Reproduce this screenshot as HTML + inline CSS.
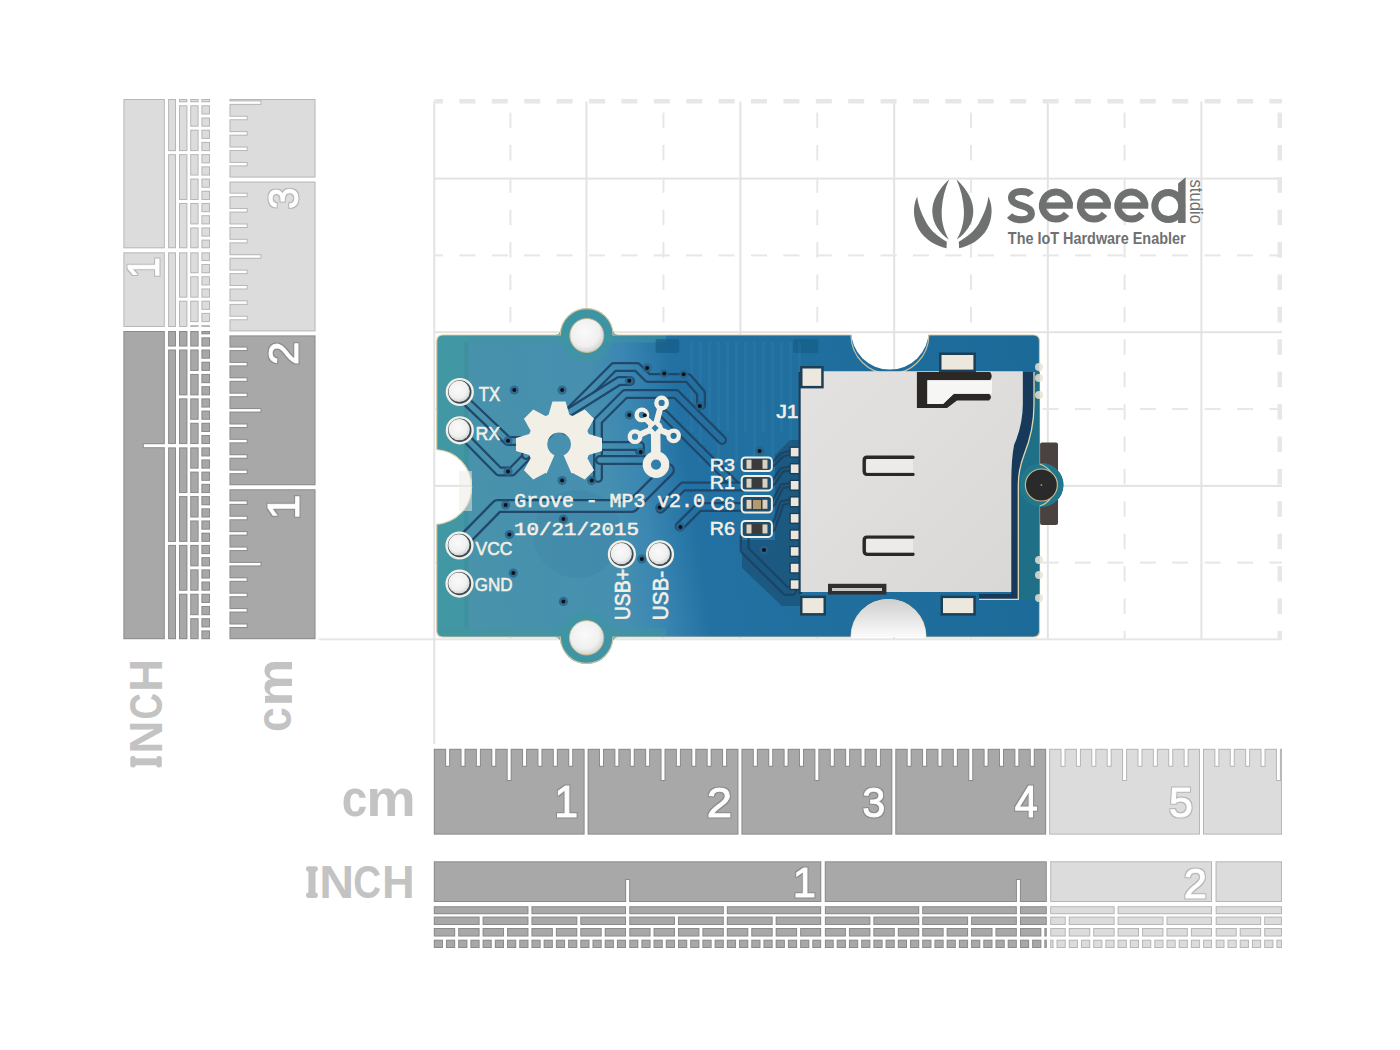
<!DOCTYPE html>
<html><head><meta charset="utf-8"><title>Grove MP3</title>
<style>html,body{margin:0;padding:0;background:#fff;width:1400px;height:1050px;overflow:hidden}
svg{display:block}</style></head>
<body><svg width="1400" height="1050" viewBox="0 0 1400 1050">
<rect width="1400" height="1050" fill="#fff"/>
<g id="grid"><rect x="433.3" y="101.5" width="2" height="642.5" fill="#e3e3e3"/><rect x="585.5" y="101.5" width="2" height="537.8" fill="#e3e3e3"/><rect x="739.4" y="101.5" width="2" height="537.8" fill="#e3e3e3"/><rect x="893.2" y="101.5" width="2" height="537.8" fill="#e3e3e3"/><rect x="1046.8" y="101.5" width="2" height="537.8" fill="#e3e3e3"/><rect x="1200.4" y="101.5" width="2" height="537.8" fill="#e3e3e3"/><rect x="434.3" y="484.9" width="847.7" height="2" fill="#e3e3e3"/><rect x="434.3" y="331.2" width="847.7" height="2" fill="#e3e3e3"/><rect x="434.3" y="177.6" width="847.7" height="2" fill="#e3e3e3"/><rect x="318.5" y="638.3" width="963.5" height="2" fill="#e6e6e6"/><rect x="509.4" y="112.5" width="2" height="15.5" fill="#e7e7e7"/><rect x="509.4" y="144.9" width="2" height="15.5" fill="#e7e7e7"/><rect x="509.4" y="177.3" width="2" height="15.5" fill="#e7e7e7"/><rect x="509.4" y="209.7" width="2" height="15.5" fill="#e7e7e7"/><rect x="509.4" y="242.1" width="2" height="15.5" fill="#e7e7e7"/><rect x="509.4" y="274.5" width="2" height="15.5" fill="#e7e7e7"/><rect x="509.4" y="306.9" width="2" height="15.5" fill="#e7e7e7"/><rect x="509.4" y="339.3" width="2" height="15.5" fill="#e7e7e7"/><rect x="509.4" y="371.7" width="2" height="15.5" fill="#e7e7e7"/><rect x="509.4" y="404.1" width="2" height="15.5" fill="#e7e7e7"/><rect x="509.4" y="436.5" width="2" height="15.5" fill="#e7e7e7"/><rect x="509.4" y="468.9" width="2" height="15.5" fill="#e7e7e7"/><rect x="509.4" y="501.3" width="2" height="15.5" fill="#e7e7e7"/><rect x="509.4" y="533.7" width="2" height="15.5" fill="#e7e7e7"/><rect x="509.4" y="566.1" width="2" height="15.5" fill="#e7e7e7"/><rect x="509.4" y="598.5" width="2" height="15.5" fill="#e7e7e7"/><rect x="509.4" y="630.9" width="2" height="8.4" fill="#e7e7e7"/><rect x="662.45" y="112.5" width="2" height="15.5" fill="#e7e7e7"/><rect x="662.45" y="144.9" width="2" height="15.5" fill="#e7e7e7"/><rect x="662.45" y="177.3" width="2" height="15.5" fill="#e7e7e7"/><rect x="662.45" y="209.7" width="2" height="15.5" fill="#e7e7e7"/><rect x="662.45" y="242.1" width="2" height="15.5" fill="#e7e7e7"/><rect x="662.45" y="274.5" width="2" height="15.5" fill="#e7e7e7"/><rect x="662.45" y="306.9" width="2" height="15.5" fill="#e7e7e7"/><rect x="662.45" y="339.3" width="2" height="15.5" fill="#e7e7e7"/><rect x="662.45" y="371.7" width="2" height="15.5" fill="#e7e7e7"/><rect x="662.45" y="404.1" width="2" height="15.5" fill="#e7e7e7"/><rect x="662.45" y="436.5" width="2" height="15.5" fill="#e7e7e7"/><rect x="662.45" y="468.9" width="2" height="15.5" fill="#e7e7e7"/><rect x="662.45" y="501.3" width="2" height="15.5" fill="#e7e7e7"/><rect x="662.45" y="533.7" width="2" height="15.5" fill="#e7e7e7"/><rect x="662.45" y="566.1" width="2" height="15.5" fill="#e7e7e7"/><rect x="662.45" y="598.5" width="2" height="15.5" fill="#e7e7e7"/><rect x="662.45" y="630.9" width="2" height="8.4" fill="#e7e7e7"/><rect x="816.3" y="112.5" width="2" height="15.5" fill="#e7e7e7"/><rect x="816.3" y="144.9" width="2" height="15.5" fill="#e7e7e7"/><rect x="816.3" y="177.3" width="2" height="15.5" fill="#e7e7e7"/><rect x="816.3" y="209.7" width="2" height="15.5" fill="#e7e7e7"/><rect x="816.3" y="242.1" width="2" height="15.5" fill="#e7e7e7"/><rect x="816.3" y="274.5" width="2" height="15.5" fill="#e7e7e7"/><rect x="816.3" y="306.9" width="2" height="15.5" fill="#e7e7e7"/><rect x="816.3" y="339.3" width="2" height="15.5" fill="#e7e7e7"/><rect x="816.3" y="371.7" width="2" height="15.5" fill="#e7e7e7"/><rect x="816.3" y="404.1" width="2" height="15.5" fill="#e7e7e7"/><rect x="816.3" y="436.5" width="2" height="15.5" fill="#e7e7e7"/><rect x="816.3" y="468.9" width="2" height="15.5" fill="#e7e7e7"/><rect x="816.3" y="501.3" width="2" height="15.5" fill="#e7e7e7"/><rect x="816.3" y="533.7" width="2" height="15.5" fill="#e7e7e7"/><rect x="816.3" y="566.1" width="2" height="15.5" fill="#e7e7e7"/><rect x="816.3" y="598.5" width="2" height="15.5" fill="#e7e7e7"/><rect x="816.3" y="630.9" width="2" height="8.4" fill="#e7e7e7"/><rect x="970" y="112.5" width="2" height="15.5" fill="#e7e7e7"/><rect x="970" y="144.9" width="2" height="15.5" fill="#e7e7e7"/><rect x="970" y="177.3" width="2" height="15.5" fill="#e7e7e7"/><rect x="970" y="209.7" width="2" height="15.5" fill="#e7e7e7"/><rect x="970" y="242.1" width="2" height="15.5" fill="#e7e7e7"/><rect x="970" y="274.5" width="2" height="15.5" fill="#e7e7e7"/><rect x="970" y="306.9" width="2" height="15.5" fill="#e7e7e7"/><rect x="970" y="339.3" width="2" height="15.5" fill="#e7e7e7"/><rect x="970" y="371.7" width="2" height="15.5" fill="#e7e7e7"/><rect x="970" y="404.1" width="2" height="15.5" fill="#e7e7e7"/><rect x="970" y="436.5" width="2" height="15.5" fill="#e7e7e7"/><rect x="970" y="468.9" width="2" height="15.5" fill="#e7e7e7"/><rect x="970" y="501.3" width="2" height="15.5" fill="#e7e7e7"/><rect x="970" y="533.7" width="2" height="15.5" fill="#e7e7e7"/><rect x="970" y="566.1" width="2" height="15.5" fill="#e7e7e7"/><rect x="970" y="598.5" width="2" height="15.5" fill="#e7e7e7"/><rect x="970" y="630.9" width="2" height="8.4" fill="#e7e7e7"/><rect x="1123.6" y="112.5" width="2" height="15.5" fill="#e7e7e7"/><rect x="1123.6" y="144.9" width="2" height="15.5" fill="#e7e7e7"/><rect x="1123.6" y="177.3" width="2" height="15.5" fill="#e7e7e7"/><rect x="1123.6" y="209.7" width="2" height="15.5" fill="#e7e7e7"/><rect x="1123.6" y="242.1" width="2" height="15.5" fill="#e7e7e7"/><rect x="1123.6" y="274.5" width="2" height="15.5" fill="#e7e7e7"/><rect x="1123.6" y="306.9" width="2" height="15.5" fill="#e7e7e7"/><rect x="1123.6" y="339.3" width="2" height="15.5" fill="#e7e7e7"/><rect x="1123.6" y="371.7" width="2" height="15.5" fill="#e7e7e7"/><rect x="1123.6" y="404.1" width="2" height="15.5" fill="#e7e7e7"/><rect x="1123.6" y="436.5" width="2" height="15.5" fill="#e7e7e7"/><rect x="1123.6" y="468.9" width="2" height="15.5" fill="#e7e7e7"/><rect x="1123.6" y="501.3" width="2" height="15.5" fill="#e7e7e7"/><rect x="1123.6" y="533.7" width="2" height="15.5" fill="#e7e7e7"/><rect x="1123.6" y="566.1" width="2" height="15.5" fill="#e7e7e7"/><rect x="1123.6" y="598.5" width="2" height="15.5" fill="#e7e7e7"/><rect x="1123.6" y="630.9" width="2" height="8.4" fill="#e7e7e7"/><rect x="1277.5" y="112.5" width="4.5" height="15.5" fill="#e7e7e7"/><rect x="1277.5" y="144.9" width="4.5" height="15.5" fill="#e7e7e7"/><rect x="1277.5" y="177.3" width="4.5" height="15.5" fill="#e7e7e7"/><rect x="1277.5" y="209.7" width="4.5" height="15.5" fill="#e7e7e7"/><rect x="1277.5" y="242.1" width="4.5" height="15.5" fill="#e7e7e7"/><rect x="1277.5" y="274.5" width="4.5" height="15.5" fill="#e7e7e7"/><rect x="1277.5" y="306.9" width="4.5" height="15.5" fill="#e7e7e7"/><rect x="1277.5" y="339.3" width="4.5" height="15.5" fill="#e7e7e7"/><rect x="1277.5" y="371.7" width="4.5" height="15.5" fill="#e7e7e7"/><rect x="1277.5" y="404.1" width="4.5" height="15.5" fill="#e7e7e7"/><rect x="1277.5" y="436.5" width="4.5" height="15.5" fill="#e7e7e7"/><rect x="1277.5" y="468.9" width="4.5" height="15.5" fill="#e7e7e7"/><rect x="1277.5" y="501.3" width="4.5" height="15.5" fill="#e7e7e7"/><rect x="1277.5" y="533.7" width="4.5" height="15.5" fill="#e7e7e7"/><rect x="1277.5" y="566.1" width="4.5" height="15.5" fill="#e7e7e7"/><rect x="1277.5" y="598.5" width="4.5" height="15.5" fill="#e7e7e7"/><rect x="1277.5" y="630.9" width="4.5" height="8.4" fill="#e7e7e7"/><rect x="434.3" y="561.6" width="8.7" height="2" fill="#e7e7e7"/><rect x="459.4" y="561.6" width="16" height="2" fill="#e7e7e7"/><rect x="491.8" y="561.6" width="16" height="2" fill="#e7e7e7"/><rect x="524.2" y="561.6" width="16" height="2" fill="#e7e7e7"/><rect x="556.6" y="561.6" width="16" height="2" fill="#e7e7e7"/><rect x="589" y="561.6" width="16" height="2" fill="#e7e7e7"/><rect x="621.4" y="561.6" width="16" height="2" fill="#e7e7e7"/><rect x="653.8" y="561.6" width="16" height="2" fill="#e7e7e7"/><rect x="686.2" y="561.6" width="16" height="2" fill="#e7e7e7"/><rect x="718.6" y="561.6" width="16" height="2" fill="#e7e7e7"/><rect x="751" y="561.6" width="16" height="2" fill="#e7e7e7"/><rect x="783.4" y="561.6" width="16" height="2" fill="#e7e7e7"/><rect x="815.8" y="561.6" width="16" height="2" fill="#e7e7e7"/><rect x="848.2" y="561.6" width="16" height="2" fill="#e7e7e7"/><rect x="880.6" y="561.6" width="16" height="2" fill="#e7e7e7"/><rect x="913" y="561.6" width="16" height="2" fill="#e7e7e7"/><rect x="945.4" y="561.6" width="16" height="2" fill="#e7e7e7"/><rect x="977.8" y="561.6" width="16" height="2" fill="#e7e7e7"/><rect x="1010.2" y="561.6" width="16" height="2" fill="#e7e7e7"/><rect x="1042.6" y="561.6" width="16" height="2" fill="#e7e7e7"/><rect x="1075" y="561.6" width="16" height="2" fill="#e7e7e7"/><rect x="1107.4" y="561.6" width="16" height="2" fill="#e7e7e7"/><rect x="1139.8" y="561.6" width="16" height="2" fill="#e7e7e7"/><rect x="1172.2" y="561.6" width="16" height="2" fill="#e7e7e7"/><rect x="1204.6" y="561.6" width="16" height="2" fill="#e7e7e7"/><rect x="1237" y="561.6" width="16" height="2" fill="#e7e7e7"/><rect x="1269.4" y="561.6" width="12.6" height="2" fill="#e7e7e7"/><rect x="434.3" y="408.05" width="8.7" height="2" fill="#e7e7e7"/><rect x="459.4" y="408.05" width="16" height="2" fill="#e7e7e7"/><rect x="491.8" y="408.05" width="16" height="2" fill="#e7e7e7"/><rect x="524.2" y="408.05" width="16" height="2" fill="#e7e7e7"/><rect x="556.6" y="408.05" width="16" height="2" fill="#e7e7e7"/><rect x="589" y="408.05" width="16" height="2" fill="#e7e7e7"/><rect x="621.4" y="408.05" width="16" height="2" fill="#e7e7e7"/><rect x="653.8" y="408.05" width="16" height="2" fill="#e7e7e7"/><rect x="686.2" y="408.05" width="16" height="2" fill="#e7e7e7"/><rect x="718.6" y="408.05" width="16" height="2" fill="#e7e7e7"/><rect x="751" y="408.05" width="16" height="2" fill="#e7e7e7"/><rect x="783.4" y="408.05" width="16" height="2" fill="#e7e7e7"/><rect x="815.8" y="408.05" width="16" height="2" fill="#e7e7e7"/><rect x="848.2" y="408.05" width="16" height="2" fill="#e7e7e7"/><rect x="880.6" y="408.05" width="16" height="2" fill="#e7e7e7"/><rect x="913" y="408.05" width="16" height="2" fill="#e7e7e7"/><rect x="945.4" y="408.05" width="16" height="2" fill="#e7e7e7"/><rect x="977.8" y="408.05" width="16" height="2" fill="#e7e7e7"/><rect x="1010.2" y="408.05" width="16" height="2" fill="#e7e7e7"/><rect x="1042.6" y="408.05" width="16" height="2" fill="#e7e7e7"/><rect x="1075" y="408.05" width="16" height="2" fill="#e7e7e7"/><rect x="1107.4" y="408.05" width="16" height="2" fill="#e7e7e7"/><rect x="1139.8" y="408.05" width="16" height="2" fill="#e7e7e7"/><rect x="1172.2" y="408.05" width="16" height="2" fill="#e7e7e7"/><rect x="1204.6" y="408.05" width="16" height="2" fill="#e7e7e7"/><rect x="1237" y="408.05" width="16" height="2" fill="#e7e7e7"/><rect x="1269.4" y="408.05" width="12.6" height="2" fill="#e7e7e7"/><rect x="434.3" y="254.4" width="8.7" height="2" fill="#e7e7e7"/><rect x="459.4" y="254.4" width="16" height="2" fill="#e7e7e7"/><rect x="491.8" y="254.4" width="16" height="2" fill="#e7e7e7"/><rect x="524.2" y="254.4" width="16" height="2" fill="#e7e7e7"/><rect x="556.6" y="254.4" width="16" height="2" fill="#e7e7e7"/><rect x="589" y="254.4" width="16" height="2" fill="#e7e7e7"/><rect x="621.4" y="254.4" width="16" height="2" fill="#e7e7e7"/><rect x="653.8" y="254.4" width="16" height="2" fill="#e7e7e7"/><rect x="686.2" y="254.4" width="16" height="2" fill="#e7e7e7"/><rect x="718.6" y="254.4" width="16" height="2" fill="#e7e7e7"/><rect x="751" y="254.4" width="16" height="2" fill="#e7e7e7"/><rect x="783.4" y="254.4" width="16" height="2" fill="#e7e7e7"/><rect x="815.8" y="254.4" width="16" height="2" fill="#e7e7e7"/><rect x="848.2" y="254.4" width="16" height="2" fill="#e7e7e7"/><rect x="880.6" y="254.4" width="16" height="2" fill="#e7e7e7"/><rect x="913" y="254.4" width="16" height="2" fill="#e7e7e7"/><rect x="945.4" y="254.4" width="16" height="2" fill="#e7e7e7"/><rect x="977.8" y="254.4" width="16" height="2" fill="#e7e7e7"/><rect x="1010.2" y="254.4" width="16" height="2" fill="#e7e7e7"/><rect x="1042.6" y="254.4" width="16" height="2" fill="#e7e7e7"/><rect x="1075" y="254.4" width="16" height="2" fill="#e7e7e7"/><rect x="1107.4" y="254.4" width="16" height="2" fill="#e7e7e7"/><rect x="1139.8" y="254.4" width="16" height="2" fill="#e7e7e7"/><rect x="1172.2" y="254.4" width="16" height="2" fill="#e7e7e7"/><rect x="1204.6" y="254.4" width="16" height="2" fill="#e7e7e7"/><rect x="1237" y="254.4" width="16" height="2" fill="#e7e7e7"/><rect x="1269.4" y="254.4" width="12.6" height="2" fill="#e7e7e7"/><rect x="434.3" y="99" width="8.7" height="4.5" fill="#e7e7e7"/><rect x="459.4" y="99" width="16" height="4.5" fill="#e7e7e7"/><rect x="491.8" y="99" width="16" height="4.5" fill="#e7e7e7"/><rect x="524.2" y="99" width="16" height="4.5" fill="#e7e7e7"/><rect x="556.6" y="99" width="16" height="4.5" fill="#e7e7e7"/><rect x="589" y="99" width="16" height="4.5" fill="#e7e7e7"/><rect x="621.4" y="99" width="16" height="4.5" fill="#e7e7e7"/><rect x="653.8" y="99" width="16" height="4.5" fill="#e7e7e7"/><rect x="686.2" y="99" width="16" height="4.5" fill="#e7e7e7"/><rect x="718.6" y="99" width="16" height="4.5" fill="#e7e7e7"/><rect x="751" y="99" width="16" height="4.5" fill="#e7e7e7"/><rect x="783.4" y="99" width="16" height="4.5" fill="#e7e7e7"/><rect x="815.8" y="99" width="16" height="4.5" fill="#e7e7e7"/><rect x="848.2" y="99" width="16" height="4.5" fill="#e7e7e7"/><rect x="880.6" y="99" width="16" height="4.5" fill="#e7e7e7"/><rect x="913" y="99" width="16" height="4.5" fill="#e7e7e7"/><rect x="945.4" y="99" width="16" height="4.5" fill="#e7e7e7"/><rect x="977.8" y="99" width="16" height="4.5" fill="#e7e7e7"/><rect x="1010.2" y="99" width="16" height="4.5" fill="#e7e7e7"/><rect x="1042.6" y="99" width="16" height="4.5" fill="#e7e7e7"/><rect x="1075" y="99" width="16" height="4.5" fill="#e7e7e7"/><rect x="1107.4" y="99" width="16" height="4.5" fill="#e7e7e7"/><rect x="1139.8" y="99" width="16" height="4.5" fill="#e7e7e7"/><rect x="1172.2" y="99" width="16" height="4.5" fill="#e7e7e7"/><rect x="1204.6" y="99" width="16" height="4.5" fill="#e7e7e7"/><rect x="1237" y="99" width="16" height="4.5" fill="#e7e7e7"/><rect x="1269.4" y="99" width="12.6" height="4.5" fill="#e7e7e7"/></g>
<defs><filter id="edge" filterUnits="userSpaceOnUse" x="0" y="0" width="1400" height="1050" color-interpolation-filters="sRGB"><feMorphology in="SourceAlpha" operator="erode" radius="1" result="er"/><feComposite in="SourceAlpha" in2="er" operator="out" result="edge"/><feFlood flood-color="#000" flood-opacity="0.17"/><feComposite in2="edge" operator="in" result="ec"/><feMerge><feMergeNode in="SourceGraphic"/><feMergeNode in="ec"/></feMerge></filter></defs>
<mask id="m_vinch" maskUnits="userSpaceOnUse" x="0" y="0" width="1400" height="1050"><rect width="1400" height="1050" fill="#fff"/><rect x="167.1" y="541.91" width="9.9" height="3" fill="#000"/><rect x="167.1" y="444.21" width="9.9" height="3" fill="#000"/><rect x="167.1" y="346.52" width="9.9" height="3" fill="#000"/><rect x="167.1" y="248.82" width="9.9" height="3" fill="#000"/><rect x="167.1" y="151.13" width="9.9" height="3" fill="#000"/><rect x="178" y="590.75" width="10.4" height="3" fill="#000"/><rect x="178" y="541.91" width="10.4" height="3" fill="#000"/><rect x="178" y="493.06" width="10.4" height="3" fill="#000"/><rect x="178" y="444.21" width="10.4" height="3" fill="#000"/><rect x="178" y="395.36" width="10.4" height="3" fill="#000"/><rect x="178" y="346.52" width="10.4" height="3" fill="#000"/><rect x="178" y="297.67" width="10.4" height="3" fill="#000"/><rect x="178" y="248.82" width="10.4" height="3" fill="#000"/><rect x="178" y="199.97" width="10.4" height="3" fill="#000"/><rect x="178" y="151.13" width="10.4" height="3" fill="#000"/><rect x="178" y="102.28" width="10.4" height="3" fill="#000"/><rect x="189.2" y="615.18" width="10.4" height="3" fill="#000"/><rect x="189.2" y="590.75" width="10.4" height="3" fill="#000"/><rect x="189.2" y="566.33" width="10.4" height="3" fill="#000"/><rect x="189.2" y="541.91" width="10.4" height="3" fill="#000"/><rect x="189.2" y="517.48" width="10.4" height="3" fill="#000"/><rect x="189.2" y="493.06" width="10.4" height="3" fill="#000"/><rect x="189.2" y="468.63" width="10.4" height="3" fill="#000"/><rect x="189.2" y="444.21" width="10.4" height="3" fill="#000"/><rect x="189.2" y="419.79" width="10.4" height="3" fill="#000"/><rect x="189.2" y="395.36" width="10.4" height="3" fill="#000"/><rect x="189.2" y="370.94" width="10.4" height="3" fill="#000"/><rect x="189.2" y="346.52" width="10.4" height="3" fill="#000"/><rect x="189.2" y="322.09" width="10.4" height="3" fill="#000"/><rect x="189.2" y="297.67" width="10.4" height="3" fill="#000"/><rect x="189.2" y="273.24" width="10.4" height="3" fill="#000"/><rect x="189.2" y="248.82" width="10.4" height="3" fill="#000"/><rect x="189.2" y="224.4" width="10.4" height="3" fill="#000"/><rect x="189.2" y="199.97" width="10.4" height="3" fill="#000"/><rect x="189.2" y="175.55" width="10.4" height="3" fill="#000"/><rect x="189.2" y="151.13" width="10.4" height="3" fill="#000"/><rect x="189.2" y="126.7" width="10.4" height="3" fill="#000"/><rect x="189.2" y="102.28" width="10.4" height="3" fill="#000"/><rect x="200.4" y="627.39" width="10.6" height="3" fill="#000"/><rect x="200.4" y="615.18" width="10.6" height="3" fill="#000"/><rect x="200.4" y="602.96" width="10.6" height="3" fill="#000"/><rect x="200.4" y="590.75" width="10.6" height="3" fill="#000"/><rect x="200.4" y="578.54" width="10.6" height="3" fill="#000"/><rect x="200.4" y="566.33" width="10.6" height="3" fill="#000"/><rect x="200.4" y="554.12" width="10.6" height="3" fill="#000"/><rect x="200.4" y="541.91" width="10.6" height="3" fill="#000"/><rect x="200.4" y="529.69" width="10.6" height="3" fill="#000"/><rect x="200.4" y="517.48" width="10.6" height="3" fill="#000"/><rect x="200.4" y="505.27" width="10.6" height="3" fill="#000"/><rect x="200.4" y="493.06" width="10.6" height="3" fill="#000"/><rect x="200.4" y="480.85" width="10.6" height="3" fill="#000"/><rect x="200.4" y="468.63" width="10.6" height="3" fill="#000"/><rect x="200.4" y="456.42" width="10.6" height="3" fill="#000"/><rect x="200.4" y="444.21" width="10.6" height="3" fill="#000"/><rect x="200.4" y="432" width="10.6" height="3" fill="#000"/><rect x="200.4" y="419.79" width="10.6" height="3" fill="#000"/><rect x="200.4" y="407.57" width="10.6" height="3" fill="#000"/><rect x="200.4" y="395.36" width="10.6" height="3" fill="#000"/><rect x="200.4" y="383.15" width="10.6" height="3" fill="#000"/><rect x="200.4" y="370.94" width="10.6" height="3" fill="#000"/><rect x="200.4" y="358.73" width="10.6" height="3" fill="#000"/><rect x="200.4" y="346.52" width="10.6" height="3" fill="#000"/><rect x="200.4" y="334.3" width="10.6" height="3" fill="#000"/><rect x="200.4" y="322.09" width="10.6" height="3" fill="#000"/><rect x="200.4" y="309.88" width="10.6" height="3" fill="#000"/><rect x="200.4" y="297.67" width="10.6" height="3" fill="#000"/><rect x="200.4" y="285.46" width="10.6" height="3" fill="#000"/><rect x="200.4" y="273.24" width="10.6" height="3" fill="#000"/><rect x="200.4" y="261.03" width="10.6" height="3" fill="#000"/><rect x="200.4" y="248.82" width="10.6" height="3" fill="#000"/><rect x="200.4" y="236.61" width="10.6" height="3" fill="#000"/><rect x="200.4" y="224.4" width="10.6" height="3" fill="#000"/><rect x="200.4" y="212.19" width="10.6" height="3" fill="#000"/><rect x="200.4" y="199.97" width="10.6" height="3" fill="#000"/><rect x="200.4" y="187.76" width="10.6" height="3" fill="#000"/><rect x="200.4" y="175.55" width="10.6" height="3" fill="#000"/><rect x="200.4" y="163.34" width="10.6" height="3" fill="#000"/><rect x="200.4" y="151.13" width="10.6" height="3" fill="#000"/><rect x="200.4" y="138.91" width="10.6" height="3" fill="#000"/><rect x="200.4" y="126.7" width="10.6" height="3" fill="#000"/><rect x="200.4" y="114.49" width="10.6" height="3" fill="#000"/><rect x="200.4" y="102.28" width="10.6" height="3" fill="#000"/><rect x="120" y="327" width="95" height="4" fill="#000"/><rect x="120" y="248.32" width="95" height="4" fill="#000"/><rect x="143.8" y="444.21" width="70" height="3" fill="#000"/><text transform="translate(158.800,278.251) rotate(-90) scale(0.3814,0.4348)" font-family="Liberation Sans" font-weight="normal" font-size="100" fill="#000" stroke="#000" stroke-width="2.5">1</text></mask><g id="vinch" filter="url(#edge)"><g mask="url(#m_vinch)"><rect x="123.4" y="99" width="41.4" height="230" fill="#dddcdd"/><rect x="123.4" y="329" width="41.4" height="310.2" fill="#a8a8a8"/><rect x="168.1" y="99" width="7.9" height="230" fill="#dddcdd"/><rect x="168.1" y="329" width="7.9" height="310.2" fill="#a8a8a8"/><rect x="179" y="99" width="8.4" height="230" fill="#dddcdd"/><rect x="179" y="329" width="8.4" height="310.2" fill="#a8a8a8"/><rect x="190.2" y="99" width="8.4" height="230" fill="#dddcdd"/><rect x="190.2" y="329" width="8.4" height="310.2" fill="#a8a8a8"/><rect x="201.4" y="99" width="8.6" height="230" fill="#dddcdd"/><rect x="201.4" y="329" width="8.6" height="310.2" fill="#a8a8a8"/></g></g>
<mask id="m_vcm" maskUnits="userSpaceOnUse" x="0" y="0" width="1400" height="1050"><rect width="1400" height="1050" fill="#fff"/><rect x="226" y="624.47" width="20.7" height="2.5" fill="#000"/><rect x="226" y="609.08" width="20.7" height="2.5" fill="#000"/><rect x="226" y="593.7" width="20.7" height="2.5" fill="#000"/><rect x="226" y="578.31" width="20.7" height="2.5" fill="#000"/><rect x="226" y="562.93" width="34.5" height="2.5" fill="#000"/><rect x="226" y="547.54" width="20.7" height="2.5" fill="#000"/><rect x="226" y="532.15" width="20.7" height="2.5" fill="#000"/><rect x="226" y="516.77" width="20.7" height="2.5" fill="#000"/><rect x="226" y="501.38" width="20.7" height="2.5" fill="#000"/><rect x="226" y="485.25" width="93" height="4" fill="#000"/><rect x="226" y="470.62" width="20.7" height="2.5" fill="#000"/><rect x="226" y="455.23" width="20.7" height="2.5" fill="#000"/><rect x="226" y="439.85" width="20.7" height="2.5" fill="#000"/><rect x="226" y="424.46" width="20.7" height="2.5" fill="#000"/><rect x="226" y="409.08" width="34.5" height="2.5" fill="#000"/><rect x="226" y="393.69" width="20.7" height="2.5" fill="#000"/><rect x="226" y="378.31" width="20.7" height="2.5" fill="#000"/><rect x="226" y="362.92" width="20.7" height="2.5" fill="#000"/><rect x="226" y="347.54" width="20.7" height="2.5" fill="#000"/><rect x="226" y="331.4" width="93" height="4" fill="#000"/><rect x="226" y="316.77" width="20.7" height="2.5" fill="#000"/><rect x="226" y="301.38" width="20.7" height="2.5" fill="#000"/><rect x="226" y="286" width="20.7" height="2.5" fill="#000"/><rect x="226" y="270.61" width="20.7" height="2.5" fill="#000"/><rect x="226" y="255.23" width="34.5" height="2.5" fill="#000"/><rect x="226" y="239.84" width="20.7" height="2.5" fill="#000"/><rect x="226" y="224.46" width="20.7" height="2.5" fill="#000"/><rect x="226" y="209.07" width="20.7" height="2.5" fill="#000"/><rect x="226" y="193.69" width="20.7" height="2.5" fill="#000"/><rect x="226" y="177.55" width="93" height="4" fill="#000"/><rect x="226" y="162.92" width="20.7" height="2.5" fill="#000"/><rect x="226" y="147.53" width="20.7" height="2.5" fill="#000"/><rect x="226" y="132.15" width="20.7" height="2.5" fill="#000"/><rect x="226" y="116.76" width="20.7" height="2.5" fill="#000"/><rect x="226" y="101.38" width="34.5" height="2.5" fill="#000"/><text transform="translate(298.500,519.591) rotate(-90) scale(0.4488,0.4493)" font-family="Liberation Sans" font-weight="normal" font-size="100" fill="#000" stroke="#000" stroke-width="2.5">1</text><text transform="translate(297.800,365.109) rotate(-90) scale(0.4217,0.4257)" font-family="Liberation Sans" font-weight="normal" font-size="100" fill="#000" stroke="#000" stroke-width="2.5">2</text><text transform="translate(297.775,209.049) rotate(-90) scale(0.3872,0.4254)" font-family="Liberation Sans" font-weight="normal" font-size="100" fill="#000" stroke="#000" stroke-width="2.5">3</text></mask><g id="vcm" filter="url(#edge)"><g mask="url(#m_vcm)"><rect x="229.5" y="99" width="86" height="234.2" fill="#dddcdd"/><rect x="229.5" y="333.2" width="86" height="306" fill="#a8a8a8"/></g></g>
<mask id="m_hcm" maskUnits="userSpaceOnUse" x="0" y="0" width="1400" height="1050"><rect width="1400" height="1050" fill="#fff"/><rect x="446.13" y="745" width="3" height="20.8" fill="#000"/><rect x="461.52" y="745" width="3" height="20.8" fill="#000"/><rect x="476.9" y="745" width="3" height="20.8" fill="#000"/><rect x="492.29" y="745" width="3" height="20.8" fill="#000"/><rect x="507.68" y="745" width="3" height="35" fill="#000"/><rect x="523.06" y="745" width="3" height="20.8" fill="#000"/><rect x="538.44" y="745" width="3" height="20.8" fill="#000"/><rect x="553.83" y="745" width="3" height="20.8" fill="#000"/><rect x="569.22" y="745" width="3" height="20.8" fill="#000"/><rect x="584.6" y="745" width="3" height="93" fill="#000"/><rect x="599.99" y="745" width="3" height="20.8" fill="#000"/><rect x="615.37" y="745" width="3" height="20.8" fill="#000"/><rect x="630.75" y="745" width="3" height="20.8" fill="#000"/><rect x="646.14" y="745" width="3" height="20.8" fill="#000"/><rect x="661.52" y="745" width="3" height="35" fill="#000"/><rect x="676.91" y="745" width="3" height="20.8" fill="#000"/><rect x="692.3" y="745" width="3" height="20.8" fill="#000"/><rect x="707.68" y="745" width="3" height="20.8" fill="#000"/><rect x="723.07" y="745" width="3" height="20.8" fill="#000"/><rect x="738.45" y="745" width="3" height="93" fill="#000"/><rect x="753.84" y="745" width="3" height="20.8" fill="#000"/><rect x="769.22" y="745" width="3" height="20.8" fill="#000"/><rect x="784.61" y="745" width="3" height="20.8" fill="#000"/><rect x="799.99" y="745" width="3" height="20.8" fill="#000"/><rect x="815.38" y="745" width="3" height="35" fill="#000"/><rect x="830.76" y="745" width="3" height="20.8" fill="#000"/><rect x="846.14" y="745" width="3" height="20.8" fill="#000"/><rect x="861.53" y="745" width="3" height="20.8" fill="#000"/><rect x="876.91" y="745" width="3" height="20.8" fill="#000"/><rect x="892.3" y="745" width="3" height="93" fill="#000"/><rect x="907.68" y="745" width="3" height="20.8" fill="#000"/><rect x="923.07" y="745" width="3" height="20.8" fill="#000"/><rect x="938.45" y="745" width="3" height="20.8" fill="#000"/><rect x="953.84" y="745" width="3" height="20.8" fill="#000"/><rect x="969.23" y="745" width="3" height="35" fill="#000"/><rect x="984.61" y="745" width="3" height="20.8" fill="#000"/><rect x="1000" y="745" width="3" height="20.8" fill="#000"/><rect x="1015.38" y="745" width="3" height="20.8" fill="#000"/><rect x="1030.76" y="745" width="3" height="20.8" fill="#000"/><rect x="1046.15" y="745" width="3" height="93" fill="#000"/><rect x="1061.53" y="745" width="3" height="20.8" fill="#000"/><rect x="1076.92" y="745" width="3" height="20.8" fill="#000"/><rect x="1092.3" y="745" width="3" height="20.8" fill="#000"/><rect x="1107.69" y="745" width="3" height="20.8" fill="#000"/><rect x="1123.08" y="745" width="3" height="35" fill="#000"/><rect x="1138.46" y="745" width="3" height="20.8" fill="#000"/><rect x="1153.85" y="745" width="3" height="20.8" fill="#000"/><rect x="1169.23" y="745" width="3" height="20.8" fill="#000"/><rect x="1184.62" y="745" width="3" height="20.8" fill="#000"/><rect x="1200" y="745" width="3" height="93" fill="#000"/><rect x="1215.38" y="745" width="3" height="20.8" fill="#000"/><rect x="1230.77" y="745" width="3" height="20.8" fill="#000"/><rect x="1246.15" y="745" width="3" height="20.8" fill="#000"/><rect x="1261.54" y="745" width="3" height="20.8" fill="#000"/><rect x="1276.92" y="745" width="3" height="35" fill="#000"/><text transform="matrix(0.4302,0,0,0.4348,554.258,816.900)" font-family="Liberation Sans" font-weight="normal" font-size="100" fill="#000" stroke="#000" stroke-width="2.5">1</text><text transform="matrix(0.4565,0,0,0.4329,706.717,817.300)" font-family="Liberation Sans" font-weight="normal" font-size="100" fill="#000" stroke="#000" stroke-width="2.5">2</text><text transform="matrix(0.4149,0,0,0.4282,862.140,817.172)" font-family="Liberation Sans" font-weight="normal" font-size="100" fill="#000" stroke="#000" stroke-width="2.5">3</text><text transform="matrix(0.4137,0,0,0.4353,1014.773,817.235)" font-family="Liberation Sans" font-weight="normal" font-size="100" fill="#000" stroke="#000" stroke-width="2.5">4</text><text transform="matrix(0.4298,0,0,0.4286,1169.081,817.071)" font-family="Liberation Sans" font-weight="normal" font-size="100" fill="#000" stroke="#000" stroke-width="2.5">5</text></mask><g id="hcm" filter="url(#edge)"><g mask="url(#m_hcm)"><rect x="433.8" y="748.8" width="613.7" height="85.8" fill="#a8a8a8"/><rect x="1047.5" y="748.8" width="234.5" height="85.8" fill="#dddcdd"/></g></g>
<mask id="m_hinch" maskUnits="userSpaceOnUse" x="0" y="0" width="1400" height="1050"><rect width="1400" height="1050" fill="#fff"/><rect x="528.44" y="905.2" width="3" height="10" fill="#000"/><rect x="626.14" y="905.2" width="3" height="10" fill="#000"/><rect x="723.83" y="905.2" width="3" height="10" fill="#000"/><rect x="821.53" y="905.2" width="3" height="10" fill="#000"/><rect x="919.22" y="905.2" width="3" height="10" fill="#000"/><rect x="1016.92" y="905.2" width="3" height="10" fill="#000"/><rect x="1114.61" y="905.2" width="3" height="10" fill="#000"/><rect x="1212.31" y="905.2" width="3" height="10" fill="#000"/><rect x="479.6" y="915.6" width="3" height="10.4" fill="#000"/><rect x="528.44" y="915.6" width="3" height="10.4" fill="#000"/><rect x="577.29" y="915.6" width="3" height="10.4" fill="#000"/><rect x="626.14" y="915.6" width="3" height="10.4" fill="#000"/><rect x="674.99" y="915.6" width="3" height="10.4" fill="#000"/><rect x="723.83" y="915.6" width="3" height="10.4" fill="#000"/><rect x="772.68" y="915.6" width="3" height="10.4" fill="#000"/><rect x="821.53" y="915.6" width="3" height="10.4" fill="#000"/><rect x="870.38" y="915.6" width="3" height="10.4" fill="#000"/><rect x="919.22" y="915.6" width="3" height="10.4" fill="#000"/><rect x="968.07" y="915.6" width="3" height="10.4" fill="#000"/><rect x="1016.92" y="915.6" width="3" height="10.4" fill="#000"/><rect x="1065.77" y="915.6" width="3" height="10.4" fill="#000"/><rect x="1114.61" y="915.6" width="3" height="10.4" fill="#000"/><rect x="1163.46" y="915.6" width="3" height="10.4" fill="#000"/><rect x="1212.31" y="915.6" width="3" height="10.4" fill="#000"/><rect x="1261.16" y="915.6" width="3" height="10.4" fill="#000"/><rect x="455.17" y="927" width="3" height="10.5" fill="#000"/><rect x="479.6" y="927" width="3" height="10.5" fill="#000"/><rect x="504.02" y="927" width="3" height="10.5" fill="#000"/><rect x="528.44" y="927" width="3" height="10.5" fill="#000"/><rect x="552.87" y="927" width="3" height="10.5" fill="#000"/><rect x="577.29" y="927" width="3" height="10.5" fill="#000"/><rect x="601.72" y="927" width="3" height="10.5" fill="#000"/><rect x="626.14" y="927" width="3" height="10.5" fill="#000"/><rect x="650.56" y="927" width="3" height="10.5" fill="#000"/><rect x="674.99" y="927" width="3" height="10.5" fill="#000"/><rect x="699.41" y="927" width="3" height="10.5" fill="#000"/><rect x="723.83" y="927" width="3" height="10.5" fill="#000"/><rect x="748.26" y="927" width="3" height="10.5" fill="#000"/><rect x="772.68" y="927" width="3" height="10.5" fill="#000"/><rect x="797.11" y="927" width="3" height="10.5" fill="#000"/><rect x="821.53" y="927" width="3" height="10.5" fill="#000"/><rect x="845.95" y="927" width="3" height="10.5" fill="#000"/><rect x="870.38" y="927" width="3" height="10.5" fill="#000"/><rect x="894.8" y="927" width="3" height="10.5" fill="#000"/><rect x="919.22" y="927" width="3" height="10.5" fill="#000"/><rect x="943.65" y="927" width="3" height="10.5" fill="#000"/><rect x="968.07" y="927" width="3" height="10.5" fill="#000"/><rect x="992.49" y="927" width="3" height="10.5" fill="#000"/><rect x="1016.92" y="927" width="3" height="10.5" fill="#000"/><rect x="1041.34" y="927" width="3" height="10.5" fill="#000"/><rect x="1065.77" y="927" width="3" height="10.5" fill="#000"/><rect x="1090.19" y="927" width="3" height="10.5" fill="#000"/><rect x="1114.61" y="927" width="3" height="10.5" fill="#000"/><rect x="1139.04" y="927" width="3" height="10.5" fill="#000"/><rect x="1163.46" y="927" width="3" height="10.5" fill="#000"/><rect x="1187.88" y="927" width="3" height="10.5" fill="#000"/><rect x="1212.31" y="927" width="3" height="10.5" fill="#000"/><rect x="1236.73" y="927" width="3" height="10.5" fill="#000"/><rect x="1261.16" y="927" width="3" height="10.5" fill="#000"/><rect x="442.96" y="938.7" width="3" height="10.3" fill="#000"/><rect x="455.17" y="938.7" width="3" height="10.3" fill="#000"/><rect x="467.39" y="938.7" width="3" height="10.3" fill="#000"/><rect x="479.6" y="938.7" width="3" height="10.3" fill="#000"/><rect x="491.81" y="938.7" width="3" height="10.3" fill="#000"/><rect x="504.02" y="938.7" width="3" height="10.3" fill="#000"/><rect x="516.23" y="938.7" width="3" height="10.3" fill="#000"/><rect x="528.44" y="938.7" width="3" height="10.3" fill="#000"/><rect x="540.66" y="938.7" width="3" height="10.3" fill="#000"/><rect x="552.87" y="938.7" width="3" height="10.3" fill="#000"/><rect x="565.08" y="938.7" width="3" height="10.3" fill="#000"/><rect x="577.29" y="938.7" width="3" height="10.3" fill="#000"/><rect x="589.5" y="938.7" width="3" height="10.3" fill="#000"/><rect x="601.72" y="938.7" width="3" height="10.3" fill="#000"/><rect x="613.93" y="938.7" width="3" height="10.3" fill="#000"/><rect x="626.14" y="938.7" width="3" height="10.3" fill="#000"/><rect x="638.35" y="938.7" width="3" height="10.3" fill="#000"/><rect x="650.56" y="938.7" width="3" height="10.3" fill="#000"/><rect x="662.78" y="938.7" width="3" height="10.3" fill="#000"/><rect x="674.99" y="938.7" width="3" height="10.3" fill="#000"/><rect x="687.2" y="938.7" width="3" height="10.3" fill="#000"/><rect x="699.41" y="938.7" width="3" height="10.3" fill="#000"/><rect x="711.62" y="938.7" width="3" height="10.3" fill="#000"/><rect x="723.83" y="938.7" width="3" height="10.3" fill="#000"/><rect x="736.05" y="938.7" width="3" height="10.3" fill="#000"/><rect x="748.26" y="938.7" width="3" height="10.3" fill="#000"/><rect x="760.47" y="938.7" width="3" height="10.3" fill="#000"/><rect x="772.68" y="938.7" width="3" height="10.3" fill="#000"/><rect x="784.89" y="938.7" width="3" height="10.3" fill="#000"/><rect x="797.11" y="938.7" width="3" height="10.3" fill="#000"/><rect x="809.32" y="938.7" width="3" height="10.3" fill="#000"/><rect x="821.53" y="938.7" width="3" height="10.3" fill="#000"/><rect x="833.74" y="938.7" width="3" height="10.3" fill="#000"/><rect x="845.95" y="938.7" width="3" height="10.3" fill="#000"/><rect x="858.16" y="938.7" width="3" height="10.3" fill="#000"/><rect x="870.38" y="938.7" width="3" height="10.3" fill="#000"/><rect x="882.59" y="938.7" width="3" height="10.3" fill="#000"/><rect x="894.8" y="938.7" width="3" height="10.3" fill="#000"/><rect x="907.01" y="938.7" width="3" height="10.3" fill="#000"/><rect x="919.22" y="938.7" width="3" height="10.3" fill="#000"/><rect x="931.44" y="938.7" width="3" height="10.3" fill="#000"/><rect x="943.65" y="938.7" width="3" height="10.3" fill="#000"/><rect x="955.86" y="938.7" width="3" height="10.3" fill="#000"/><rect x="968.07" y="938.7" width="3" height="10.3" fill="#000"/><rect x="980.28" y="938.7" width="3" height="10.3" fill="#000"/><rect x="992.49" y="938.7" width="3" height="10.3" fill="#000"/><rect x="1004.71" y="938.7" width="3" height="10.3" fill="#000"/><rect x="1016.92" y="938.7" width="3" height="10.3" fill="#000"/><rect x="1029.13" y="938.7" width="3" height="10.3" fill="#000"/><rect x="1041.34" y="938.7" width="3" height="10.3" fill="#000"/><rect x="1053.55" y="938.7" width="3" height="10.3" fill="#000"/><rect x="1065.77" y="938.7" width="3" height="10.3" fill="#000"/><rect x="1077.98" y="938.7" width="3" height="10.3" fill="#000"/><rect x="1090.19" y="938.7" width="3" height="10.3" fill="#000"/><rect x="1102.4" y="938.7" width="3" height="10.3" fill="#000"/><rect x="1114.61" y="938.7" width="3" height="10.3" fill="#000"/><rect x="1126.83" y="938.7" width="3" height="10.3" fill="#000"/><rect x="1139.04" y="938.7" width="3" height="10.3" fill="#000"/><rect x="1151.25" y="938.7" width="3" height="10.3" fill="#000"/><rect x="1163.46" y="938.7" width="3" height="10.3" fill="#000"/><rect x="1175.67" y="938.7" width="3" height="10.3" fill="#000"/><rect x="1187.88" y="938.7" width="3" height="10.3" fill="#000"/><rect x="1200.1" y="938.7" width="3" height="10.3" fill="#000"/><rect x="1212.31" y="938.7" width="3" height="10.3" fill="#000"/><rect x="1224.52" y="938.7" width="3" height="10.3" fill="#000"/><rect x="1236.73" y="938.7" width="3" height="10.3" fill="#000"/><rect x="1248.94" y="938.7" width="3" height="10.3" fill="#000"/><rect x="1261.16" y="938.7" width="3" height="10.3" fill="#000"/><rect x="1273.37" y="938.7" width="3" height="10.3" fill="#000"/><rect x="1046.8" y="858" width="3.4" height="93" fill="#000"/><rect x="821.28" y="858" width="3.5" height="93" fill="#000"/><rect x="1212.06" y="858" width="3.5" height="93" fill="#000"/><rect x="626.14" y="880" width="3" height="70" fill="#000"/><rect x="1016.92" y="880" width="3" height="70" fill="#000"/><text transform="matrix(0.4186,0,0,0.4275,792.651,896.500)" font-family="Liberation Sans" font-weight="normal" font-size="100" fill="#000" stroke="#000" stroke-width="2.5">1</text><text transform="matrix(0.4174,0,0,0.4286,1183.713,898.000)" font-family="Liberation Sans" font-weight="normal" font-size="100" fill="#000" stroke="#000" stroke-width="2.5">2</text></mask><g id="hinch" filter="url(#edge)"><g mask="url(#m_hinch)"><rect x="433.8" y="861.3" width="614.7" height="40.7" fill="#a8a8a8"/><rect x="1048.5" y="861.3" width="233.5" height="40.7" fill="#dddcdd"/><rect x="433.8" y="906.2" width="614.7" height="8" fill="#a8a8a8"/><rect x="1048.5" y="906.2" width="233.5" height="8" fill="#dddcdd"/><rect x="433.8" y="916.6" width="614.7" height="8.4" fill="#a8a8a8"/><rect x="1048.5" y="916.6" width="233.5" height="8.4" fill="#dddcdd"/><rect x="433.8" y="928" width="614.7" height="8.5" fill="#a8a8a8"/><rect x="1048.5" y="928" width="233.5" height="8.5" fill="#dddcdd"/><rect x="433.8" y="939.7" width="614.7" height="8.3" fill="#a8a8a8"/><rect x="1048.5" y="939.7" width="233.5" height="8.3" fill="#dddcdd"/></g></g>
<g id="labels"><text transform="matrix(0.4592,0,0,0.5091,341.663,815.791)" font-family="Liberation Sans" font-weight="bold" font-size="100" fill="#c3c3c3" >c</text><text transform="matrix(0.5566,0,0,0.5185,366.304,816.300)" font-family="Liberation Sans" font-weight="bold" font-size="100" fill="#c3c3c3" >m</text><g fill="#c3c3c3"><rect x="306" y="866.3" width="11.9" height="5.37" rx="2.44"/><rect x="306" y="892.53" width="11.9" height="5.37" rx="2.44"/><rect x="308.38" y="867.3" width="7.14" height="29.6"/></g><text transform="matrix(0.4828,0,0,0.4580,319.221,897.900)" font-family="Liberation Sans" font-weight="bold" font-size="100" fill="#c3c3c3" >N</text><text transform="matrix(0.3846,0,0,0.4634,353.262,898.037)" font-family="Liberation Sans" font-weight="bold" font-size="100" fill="#c3c3c3" >C</text><text transform="matrix(0.4517,0,0,0.4580,381.938,897.900)" font-family="Liberation Sans" font-weight="bold" font-size="100" fill="#c3c3c3" >H</text><g fill="#c3c3c3"><rect x="130.3" y="756" width="5.36" height="11.6" rx="2.43"/><rect x="156.45" y="756" width="5.36" height="11.6" rx="2.43"/><rect x="131.3" y="758.32" width="29.5" height="6.96"/></g><text transform="translate(161.800,753.486) rotate(-90) scale(0.4552,0.4565)" font-family="Liberation Sans" font-weight="bold" font-size="100" fill="#c3c3c3" >N</text><text transform="translate(162.037,719.565) rotate(-90) scale(0.3662,0.4634)" font-family="Liberation Sans" font-weight="bold" font-size="100" fill="#c3c3c3" >C</text><text transform="translate(161.800,691.786) rotate(-90) scale(0.4552,0.4565)" font-family="Liberation Sans" font-weight="bold" font-size="100" fill="#c3c3c3" >H</text><text transform="translate(291.600,706.467) rotate(-90) scale(0.5382,0.5111)" font-family="Liberation Sans" font-weight="bold" font-size="100" fill="#c3c3c3" >m</text><text transform="translate(291.098,732.080) rotate(-90) scale(0.4449,0.5018)" font-family="Liberation Sans" font-weight="bold" font-size="100" fill="#c3c3c3" >c</text></g>
<g id="logo" fill="#6f7070">
<path d="M949.2,179.3 C938,190 932,201 932.3,212 C932.8,224 939.5,233 948.8,239.5 C943.5,230 941.3,221 941.7,210 C942.2,199 945,189 949.2,179.3 Z"/>
<path d="M 956.40 179.30 C 967.60 190.00 973.60 201.00 973.30 212.00 C 972.80 224.00 966.10 233.00 956.80 239.50 C 962.10 230.00 964.30 221.00 963.90 210.00 C 963.40 199.00 960.60 189.00 956.40 179.30 Z"/>
<path d="M917.2,196.5 C912.5,206 913,219 918.5,229 C925,240 936,246 946.5,248.2 L946.8,241.8 C939,237 931,231.5 926.5,223 C921,213 918.2,205 917.2,196.5 Z"/>
<path d="M 988.40 196.50 C 993.10 206.00 992.60 219.00 987.10 229.00 C 980.60 240.00 969.60 246.00 959.10 248.20 L 958.80 241.80 C 966.60 237.00 974.60 231.50 979.10 223.00 C 984.60 213.00 987.40 205.00 988.40 196.50 Z"/>
<g fill="none" stroke="#6f7070" stroke-width="7">
<path d="M1069.40,205.60 A13.5,13.5 0 1 0 1066.54,213.91"/>
<path d="M1107.40,205.60 A13.5,13.5 0 1 0 1104.54,213.91"/>
<path d="M1144.80,205.60 A13.5,13.5 0 1 0 1141.94,213.91"/>
<path d="M1031,195 C1029,192 1025.5,191.4 1021.5,191.4 C1015.5,191.4 1011.5,194 1011.5,198 C1011.5,202.5 1016,204.3 1021.5,205.6 C1027,207 1031.4,209 1031.4,213.5 C1031.4,217.8 1027,219.8 1021.5,219.8 C1016,219.8 1012,218.3 1009.6,215.5"/>
<circle cx="1168.3" cy="206.1" r="13.5"/>
</g>
<g fill="#6f7070">
<rect x="1041.90" y="202.4" width="30.90" height="6.3"/>
<rect x="1079.90" y="202.4" width="30.90" height="6.3"/>
<rect x="1117.30" y="202.4" width="30.90" height="6.3"/>
<polygon points="1178.1,183.6 1185.6,177.2 1185.6,223.1 1178.1,223.1"/>
</g>
<text transform="matrix(0.1442,0,0,0.1689,1007.856,243.831)" font-family="Liberation Sans" font-weight="bold" font-size="100" fill="#6f7070" >The IoT Hardware Enabler</text>
<text transform="translate(1190.181,179.499) rotate(90) scale(0.1669,0.1811)" font-family="Liberation Sans" font-weight="normal" font-size="100" fill="#6f7070" >studio</text>
</g>
<defs>
<linearGradient id="pcbg" x1="363.6" y1="0" x2="967.6" y2="0" gradientUnits="userSpaceOnUse" gradientTransform="skewX(8.5)">
 <stop offset="0" stop-color="#4a93aa"/>
 <stop offset="0.28" stop-color="#468fb0"/>
 <stop offset="0.34" stop-color="#3b87b2"/>
 <stop offset="0.42" stop-color="#2271a2"/>
 <stop offset="1" stop-color="#1c6a98"/>
</linearGradient>
<radialGradient id="holeg" cx="0.45" cy="0.4" r="0.6">
 <stop offset="0" stop-color="#fafafa"/>
 <stop offset="0.7" stop-color="#f0f0f0"/>
 <stop offset="1" stop-color="#d4d4d4"/>
</radialGradient>
<linearGradient id="metal" x1="0" y1="0" x2="1" y2="1">
 <stop offset="0" stop-color="#e3e2e0"/>
 <stop offset="1" stop-color="#d9d8d6"/>
</linearGradient>
<mask id="boardmask" maskUnits="userSpaceOnUse" x="400" y="290" width="700" height="400">
 <rect x="400" y="290" width="700" height="400" fill="#000"/>
 <rect x="436.8" y="335" width="602.7" height="302" rx="6" fill="#fff"/>
 <circle cx="586.7" cy="334.5" r="26.3" fill="#fff"/>
 <circle cx="586.6" cy="637.8" r="26.3" fill="#fff"/>
 <rect x="554.9" y="328" width="63.6" height="8" fill="#fff"/>
 <circle cx="554.87" cy="329" r="6" fill="#000"/><circle cx="618.53" cy="329" r="6" fill="#000"/>
 <rect x="554.8" y="636" width="63.6" height="8" fill="#fff"/>
 <circle cx="554.8" cy="643" r="6" fill="#000"/><circle cx="618.4" cy="643" r="6" fill="#000"/>
 <circle cx="1041.4" cy="485" r="22" fill="#fff"/>
 <circle cx="889.9" cy="330.7" r="38.9" fill="#000"/>
 <circle cx="888.5" cy="636.5" r="37.5" fill="#000"/>
 <circle cx="434.6" cy="486.9" r="37.5" fill="#000"/>
 <circle cx="586.8" cy="335.5" r="16.8" fill="#000"/>
 <circle cx="586.6" cy="637.8" r="17" fill="#000"/>
</mask>
<mask id="gearmask" maskUnits="userSpaceOnUse" x="500" y="390" width="120" height="110">
 <rect x="500" y="390" width="120" height="110" fill="#000"/>
 <polygon fill="#fff" points="548.60,414.77 552.43,401.50 565.57,401.50 569.40,414.77 570.50,415.17 571.58,415.62 572.67,416.12 584.76,409.45 594.05,418.74 587.38,430.83 587.87,431.89 588.31,432.97 588.73,434.10 602.00,437.93 602.00,451.07 588.73,454.90 588.33,456.00 587.88,457.08 587.38,458.17 594.05,470.26 584.76,479.55 572.67,472.88 571.61,473.37 570.53,473.81 569.40,474.23 565.57,487.50 552.43,487.50 548.60,474.23 547.50,473.83 546.42,473.38 545.33,472.88 533.24,479.55 523.95,470.26 530.62,458.17 530.13,457.11 529.69,456.03 529.27,454.90 516.00,451.07 516.00,437.93 529.27,434.10 529.67,433.00 530.12,431.92 530.62,430.83 523.95,418.74 533.24,409.45 545.33,416.12 546.39,415.63 547.47,415.19"/>
 <circle cx="559.1" cy="444.3" r="11.8" fill="#000"/>
 <polygon points="559,444.5 540.1,488.5 577.9,488.5" fill="#000"/>
</mask>
</defs>
<g id="pcb">
<rect x="1040" y="442.5" width="18" height="82.5" rx="2" fill="#4a4240"/>
<g mask="url(#boardmask)">
<rect x="400" y="290" width="700" height="400" fill="url(#pcbg)"/>
<rect x="436" y="300" width="230" height="42.5" fill="#3f95a0" opacity="0.6"/>
<circle cx="586.7" cy="334.5" r="27" fill="#3d979e" opacity="0.55"/><circle cx="586.6" cy="637.8" r="27" fill="#3d979e" opacity="0.55"/>
<rect x="436" y="335" width="32.5" height="302" fill="#3f99a2" opacity="0.75"/><rect x="464" y="342" width="4.5" height="286" fill="#3a8497" opacity="0.35"/>
<rect x="436" y="628" width="230" height="40" fill="#3f95a0" opacity="0.5"/>
<rect x="655.7" y="339" width="23.6" height="14" rx="2" fill="#155c88" opacity="0.7"/><rect x="793.2" y="339" width="25.2" height="14" rx="2" fill="#155c88" opacity="0.7"/>
<circle cx="577" cy="534" r="44" fill="#2c6a90" opacity="0.13"/>
<rect x="690" y="342" width="3" height="90" fill="#4a9ac0" opacity="0.12"/>
<rect x="699" y="342" width="3" height="120" fill="#4a9ac0" opacity="0.12"/>
<rect x="708" y="342" width="3" height="90" fill="#4a9ac0" opacity="0.12"/>
<rect x="717" y="342" width="3" height="120" fill="#4a9ac0" opacity="0.12"/>
<rect x="726" y="342" width="3" height="90" fill="#4a9ac0" opacity="0.12"/>
<rect x="735" y="342" width="3" height="120" fill="#4a9ac0" opacity="0.12"/>
<rect x="744" y="342" width="3" height="90" fill="#4a9ac0" opacity="0.12"/>
<rect x="753" y="342" width="3" height="120" fill="#4a9ac0" opacity="0.12"/>
<rect x="762" y="342" width="3" height="90" fill="#4a9ac0" opacity="0.12"/>
<rect x="771" y="342" width="3" height="120" fill="#4a9ac0" opacity="0.12"/>
<rect x="780" y="342" width="3" height="90" fill="#4a9ac0" opacity="0.12"/>
<rect x="789" y="342" width="3" height="120" fill="#4a9ac0" opacity="0.12"/>
<rect x="798" y="342" width="3" height="90" fill="#4a9ac0" opacity="0.12"/>
</g>
<g fill="none" stroke="#d9c9a0" stroke-width="1.2" opacity="0.9">
<path d="M442.8,335 H560.3 A26.3,26.3 0 0 1 613.1,335 H851 A38.9,38.9 0 0 0 928.8,335 H1033.5 Q1039.5,335 1039.5,341 V464 A22,22 0 0 1 1039.5,506 V631 Q1039.5,637 1033.5,637 H926 A37.5,37.5 0 0 0 851,637 H612.9 A26.3,26.3 0 0 1 560.3,637 H442.8 Q436.8,637 436.8,631 V524.3 A37.5,37.5 0 0 0 436.8,449.5 V341 Q436.8,335 442.8,335 Z"/>
</g>
<defs><linearGradient id="notchg" x1="0" y1="0" x2="0" y2="1"><stop offset="0" stop-color="#cfcfcf"/><stop offset="1" stop-color="#fbfbfb"/></linearGradient></defs>
<path d="M851,637 A37.5,37.5 0 0 1 926,637 Z" fill="url(#notchg)"/>
<circle cx="586.8" cy="335.5" r="16.8" fill="url(#holeg)"/>
<circle cx="586.8" cy="335.5" r="17" fill="none" stroke="#c8b68a" stroke-width="1"/>
<circle cx="586.6" cy="637.8" r="17" fill="url(#holeg)"/>
<circle cx="586.6" cy="637.8" r="17.2" fill="none" stroke="#c8b68a" stroke-width="1"/>
<rect x="459" y="471" width="13" height="40" fill="#ece9e2" opacity="0.5"/>
<path d="M468.00,403.00 L508.00,441.00 L522.00,441.00" fill="none" stroke="#1f4467" stroke-width="10" stroke-linejoin="round" stroke-linecap="round" opacity="0.95"/><path d="M468.00,403.00 L508.00,441.00 L522.00,441.00" fill="none" stroke="url(#pcbg)" stroke-width="5.4" stroke-linejoin="round" stroke-linecap="round"/>
<path d="M468.00,440.00 L499.00,471.50 L512.00,471.50 L530.00,453.00" fill="none" stroke="#1f4467" stroke-width="10" stroke-linejoin="round" stroke-linecap="round" opacity="0.95"/><path d="M468.00,440.00 L499.00,471.50 L512.00,471.50 L530.00,453.00" fill="none" stroke="url(#pcbg)" stroke-width="5.4" stroke-linejoin="round" stroke-linecap="round"/>
<path d="M526.00,455.00 L614.00,367.00 L637.00,367.00 L648.00,378.00 L688.00,378.00 L701.00,393.00 L701.00,405.00" fill="none" stroke="#1f4467" stroke-width="10" stroke-linejoin="round" stroke-linecap="round" opacity="0.95"/><path d="M526.00,455.00 L614.00,367.00 L637.00,367.00 L648.00,378.00 L688.00,378.00 L701.00,393.00 L701.00,405.00" fill="none" stroke="url(#pcbg)" stroke-width="5.4" stroke-linejoin="round" stroke-linecap="round"/>
<path d="M560.00,418.00 L619.00,381.00 L630.00,381.00" fill="none" stroke="#1f4467" stroke-width="10" stroke-linejoin="round" stroke-linecap="round" opacity="0.95"/><path d="M560.00,418.00 L619.00,381.00 L630.00,381.00" fill="none" stroke="url(#pcbg)" stroke-width="5.4" stroke-linejoin="round" stroke-linecap="round"/>
<path d="M598.00,478.00 L598.00,421.00 L625.00,394.00 L676.00,394.00 L722.00,440.00" fill="none" stroke="#1f4467" stroke-width="10" stroke-linejoin="round" stroke-linecap="round" opacity="0.95"/><path d="M598.00,478.00 L598.00,421.00 L625.00,394.00 L676.00,394.00 L722.00,440.00" fill="none" stroke="url(#pcbg)" stroke-width="5.4" stroke-linejoin="round" stroke-linecap="round"/>
<path d="M600.00,446.00 L640.00,446.00 L640.00,451.00" fill="none" stroke="#1f4467" stroke-width="10" stroke-linejoin="round" stroke-linecap="round" opacity="0.95"/><path d="M600.00,446.00 L640.00,446.00 L640.00,451.00" fill="none" stroke="url(#pcbg)" stroke-width="5.4" stroke-linejoin="round" stroke-linecap="round"/>
<path d="M600.00,460.00 L652.00,460.00" fill="none" stroke="#1f4467" stroke-width="10" stroke-linejoin="round" stroke-linecap="round" opacity="0.95"/><path d="M600.00,460.00 L652.00,460.00" fill="none" stroke="url(#pcbg)" stroke-width="5.4" stroke-linejoin="round" stroke-linecap="round"/>
<path d="M664.00,414.00 L722.00,472.00 L735.00,485.00" fill="none" stroke="#1f4467" stroke-width="10" stroke-linejoin="round" stroke-linecap="round" opacity="0.95"/><path d="M664.00,414.00 L722.00,472.00 L735.00,485.00" fill="none" stroke="url(#pcbg)" stroke-width="5.4" stroke-linejoin="round" stroke-linecap="round"/>
<path d="M466.00,538.00 L497.50,506.00 L632.00,506.00 L668.00,470.00" fill="none" stroke="#1f4467" stroke-width="14" stroke-linejoin="round" stroke-linecap="round" opacity="0.95"/><path d="M466.00,538.00 L497.50,506.00 L632.00,506.00 L668.00,470.00" fill="none" stroke="url(#pcbg)" stroke-width="9.4" stroke-linejoin="round" stroke-linecap="round"/>
<path d="M660.50,508.70 L683.00,486.50 L742.00,486.50" fill="none" stroke="#1f4467" stroke-width="10" stroke-linejoin="round" stroke-linecap="round" opacity="0.95"/><path d="M660.50,508.70 L683.00,486.50 L742.00,486.50" fill="none" stroke="url(#pcbg)" stroke-width="5.4" stroke-linejoin="round" stroke-linecap="round"/>
<path d="M679.70,526.40 L699.00,507.00 L742.00,507.00" fill="none" stroke="#1f4467" stroke-width="10" stroke-linejoin="round" stroke-linecap="round" opacity="0.95"/><path d="M679.70,526.40 L699.00,507.00 L742.00,507.00" fill="none" stroke="url(#pcbg)" stroke-width="5.4" stroke-linejoin="round" stroke-linecap="round"/>
<path d="M744.70,537.00 L744.70,550.00 L786.00,591.00 L792.00,591.00" fill="none" stroke="#1f4467" stroke-width="10" stroke-linejoin="round" stroke-linecap="round" opacity="0.95"/><path d="M744.70,537.00 L744.70,550.00 L786.00,591.00 L792.00,591.00" fill="none" stroke="url(#pcbg)" stroke-width="5.4" stroke-linejoin="round" stroke-linecap="round"/>
<path d="M773.00,464.00 L782.00,455.00 L792.00,452.00" fill="none" stroke="#1f4467" stroke-width="6" stroke-linejoin="round" stroke-linecap="round" opacity="0.95"/><path d="M773.00,464.00 L782.00,455.00 L792.00,452.00" fill="none" stroke="url(#pcbg)" stroke-width="1.4000000000000004" stroke-linejoin="round" stroke-linecap="round"/>
<path d="M773.00,483.00 L782.00,470.00 L792.00,468.00" fill="none" stroke="#1f4467" stroke-width="6" stroke-linejoin="round" stroke-linecap="round" opacity="0.95"/><path d="M773.00,483.00 L782.00,470.00 L792.00,468.00" fill="none" stroke="url(#pcbg)" stroke-width="1.4000000000000004" stroke-linejoin="round" stroke-linecap="round"/>
<path d="M773.00,504.00 L782.00,486.00 L792.00,485.00" fill="none" stroke="#1f4467" stroke-width="6" stroke-linejoin="round" stroke-linecap="round" opacity="0.95"/><path d="M773.00,504.00 L782.00,486.00 L792.00,485.00" fill="none" stroke="url(#pcbg)" stroke-width="1.4000000000000004" stroke-linejoin="round" stroke-linecap="round"/>
<path d="M773.00,529.00 L782.00,503.00 L792.00,501.00" fill="none" stroke="#1f4467" stroke-width="6" stroke-linejoin="round" stroke-linecap="round" opacity="0.95"/><path d="M773.00,529.00 L782.00,503.00 L792.00,501.00" fill="none" stroke="url(#pcbg)" stroke-width="1.4000000000000004" stroke-linejoin="round" stroke-linecap="round"/>
<path d="M742,540 L742,568 L782,606 L800,606 L800,440 L790,440 L775,455 L775,540 Z" fill="#173f5e" opacity="0.45"/>
<circle cx="514.30" cy="390.00" r="4.6" fill="#27628a" opacity="0.8"/><circle cx="514.30" cy="390.00" r="2" fill="#111"/>
<circle cx="562.10" cy="390.00" r="4.6" fill="#27628a" opacity="0.8"/><circle cx="562.10" cy="390.00" r="2" fill="#111"/>
<circle cx="647.10" cy="367.90" r="4.6" fill="#27628a" opacity="0.8"/><circle cx="647.10" cy="367.90" r="2" fill="#111"/>
<circle cx="664.30" cy="373.60" r="4.6" fill="#27628a" opacity="0.8"/><circle cx="664.30" cy="373.60" r="2" fill="#111"/>
<circle cx="683.60" cy="374.30" r="4.6" fill="#27628a" opacity="0.8"/><circle cx="683.60" cy="374.30" r="2" fill="#111"/>
<circle cx="629.30" cy="380.70" r="4.6" fill="#27628a" opacity="0.8"/><circle cx="629.30" cy="380.70" r="2" fill="#111"/>
<circle cx="565.70" cy="430.70" r="4.6" fill="#27628a" opacity="0.8"/><circle cx="565.70" cy="430.70" r="2" fill="#111"/>
<circle cx="508.00" cy="440.70" r="4.6" fill="#27628a" opacity="0.8"/><circle cx="508.00" cy="440.70" r="2" fill="#111"/>
<circle cx="508.00" cy="471.40" r="4.6" fill="#27628a" opacity="0.8"/><circle cx="508.00" cy="471.40" r="2" fill="#111"/>
<circle cx="629.30" cy="415.00" r="4.6" fill="#27628a" opacity="0.8"/><circle cx="629.30" cy="415.00" r="2" fill="#111"/>
<circle cx="644.30" cy="415.00" r="4.6" fill="#27628a" opacity="0.8"/><circle cx="644.30" cy="415.00" r="2" fill="#111"/>
<circle cx="640.70" cy="452.10" r="4.6" fill="#27628a" opacity="0.8"/><circle cx="640.70" cy="452.10" r="2" fill="#111"/>
<circle cx="699.80" cy="405.90" r="4.6" fill="#27628a" opacity="0.8"/><circle cx="699.80" cy="405.90" r="2" fill="#111"/>
<circle cx="759.60" cy="451.00" r="4.6" fill="#27628a" opacity="0.8"/><circle cx="759.60" cy="451.00" r="2" fill="#111"/>
<circle cx="562.10" cy="480.60" r="4.6" fill="#27628a" opacity="0.8"/><circle cx="562.10" cy="480.60" r="2" fill="#111"/>
<circle cx="591.70" cy="480.60" r="4.6" fill="#27628a" opacity="0.8"/><circle cx="591.70" cy="480.60" r="2" fill="#111"/>
<circle cx="505.60" cy="505.00" r="4.6" fill="#27628a" opacity="0.8"/><circle cx="505.60" cy="505.00" r="2" fill="#111"/>
<circle cx="563.40" cy="519.10" r="4.6" fill="#27628a" opacity="0.8"/><circle cx="563.40" cy="519.10" r="2" fill="#111"/>
<circle cx="509.40" cy="534.60" r="4.6" fill="#27628a" opacity="0.8"/><circle cx="509.40" cy="534.60" r="2" fill="#111"/>
<circle cx="513.30" cy="573.10" r="4.6" fill="#27628a" opacity="0.8"/><circle cx="513.30" cy="573.10" r="2" fill="#111"/>
<circle cx="563.40" cy="601.40" r="4.6" fill="#27628a" opacity="0.8"/><circle cx="563.40" cy="601.40" r="2" fill="#111"/>
<circle cx="659.80" cy="507.60" r="4.6" fill="#27628a" opacity="0.8"/><circle cx="659.80" cy="507.60" r="2" fill="#111"/>
<circle cx="680.40" cy="526.90" r="4.6" fill="#27628a" opacity="0.8"/><circle cx="680.40" cy="526.90" r="2" fill="#111"/>
<circle cx="641.80" cy="559.00" r="4.6" fill="#27628a" opacity="0.8"/><circle cx="641.80" cy="559.00" r="2" fill="#111"/>
<circle cx="764.00" cy="550.00" r="4.6" fill="#27628a" opacity="0.8"/><circle cx="764.00" cy="550.00" r="2" fill="#111"/>
<rect x="500" y="390" width="120" height="110" fill="#f2efe6" mask="url(#gearmask)"/>
<g stroke="#f2efe6" fill="none" stroke-linecap="round">
<path d="M655.1,427.7 L661.6,402.9 M655.1,427.7 L635,436.7 M655.1,427.7 L673.6,435.8 M655.1,427.7 L641.9,414.9" stroke-width="6"/>
<path d="M655.6,427.7 L656,464.6" stroke-width="9.5"/>
</g>
<g fill="#f2efe6">
<circle cx="661.6" cy="402.9" r="7.4"/>
<circle cx="641.9" cy="414.9" r="7.4"/>
<circle cx="635" cy="436.7" r="7.4"/>
<circle cx="673.6" cy="435.8" r="7.4"/>
<circle cx="656" cy="464.6" r="13.3"/><circle cx="655.3" cy="428.5" r="7.5"/>
</g>
<g fill="url(#pcbg)">
<circle cx="661.6" cy="402.9" r="3.1"/>
<circle cx="641.9" cy="414.9" r="3.1"/>
<circle cx="635" cy="436.7" r="3.1"/>
<circle cx="673.6" cy="435.8" r="3.1"/>
<circle cx="656" cy="464.6" r="5.1"/><rect x="652.6" y="425.6" width="5" height="5" transform="rotate(45 655.1 428.1)"/>
</g>
<circle cx="644.8" cy="415.3" r="2" fill="#111"/>
<circle cx="459.8" cy="392" r="12.9" fill="#3a4a55" stroke="#f2efe6" stroke-width="2.4"/>
<circle cx="459.20" cy="391.40" r="10.6" fill="url(#holeg)"/>
<circle cx="459.8" cy="430.3" r="12.9" fill="#3a4a55" stroke="#f2efe6" stroke-width="2.4"/>
<circle cx="459.20" cy="429.70" r="10.6" fill="url(#holeg)"/>
<circle cx="459.5" cy="545.5" r="12.9" fill="#3a4a55" stroke="#f2efe6" stroke-width="2.4"/>
<circle cx="458.90" cy="544.90" r="10.6" fill="url(#holeg)"/>
<circle cx="459.5" cy="583.6" r="12.9" fill="#3a4a55" stroke="#f2efe6" stroke-width="2.4"/>
<circle cx="458.90" cy="583.00" r="10.6" fill="url(#holeg)"/>
<circle cx="621.9" cy="554.3" r="12.9" fill="#3a4a55" stroke="#f2efe6" stroke-width="2.4"/>
<circle cx="621.30" cy="553.70" r="10.6" fill="url(#holeg)"/>
<circle cx="660" cy="554.3" r="12.9" fill="#3a4a55" stroke="#f2efe6" stroke-width="2.4"/>
<circle cx="659.40" cy="553.70" r="10.6" fill="url(#holeg)"/>
<text transform="matrix(0.1675,0,0,0.1986,478.765,401.300)" font-family="Liberation Sans" font-weight="normal" font-size="100" fill="#f2efe6" stroke="#f2efe6" stroke-width="3">TX</text>
<text transform="matrix(0.1781,0,0,0.1899,475.475,439.500)" font-family="Liberation Sans" font-weight="normal" font-size="100" fill="#f2efe6" stroke="#f2efe6" stroke-width="3">RX</text>
<text transform="matrix(0.1752,0,0,0.1831,475.525,554.517)" font-family="Liberation Sans" font-weight="normal" font-size="100" fill="#f2efe6" stroke="#f2efe6" stroke-width="3">VCC</text>
<text transform="matrix(0.1703,0,0,0.1775,474.849,591.123)" font-family="Liberation Sans" font-weight="normal" font-size="100" fill="#f2efe6" stroke="#f2efe6" stroke-width="3">GND</text>
<text transform="translate(630.279,620.149) rotate(-90) scale(0.1936,0.2211)" font-family="Liberation Sans" font-weight="normal" font-size="100" fill="#f2efe6" stroke="#f2efe6" stroke-width="3">USB+</text>
<text transform="translate(667.886,620.253) rotate(-90) scale(0.2066,0.2141)" font-family="Liberation Sans" font-weight="normal" font-size="100" fill="#f2efe6" stroke="#f2efe6" stroke-width="3">USB-</text>
<text transform="matrix(0.1985,0,0,0.2096,514.309,506.540)" font-family="Liberation Mono" font-weight="normal" font-size="100" fill="#f2efe6" stroke="#f2efe6" stroke-width="3">Grove - MP3 v2.0</text>
<text transform="matrix(0.2082,0,0,0.1926,514.043,535.057)" font-family="Liberation Mono" font-weight="normal" font-size="100" fill="#f2efe6" stroke="#f2efe6" stroke-width="3">10/21/2015</text>
<text transform="matrix(0.1965,0,0,0.1704,709.828,471.230)" font-family="Liberation Sans" font-weight="normal" font-size="100" fill="#f2efe6" stroke="#f2efe6" stroke-width="3">R3</text>
<text transform="matrix(0.1965,0,0,0.1870,709.828,489.300)" font-family="Liberation Sans" font-weight="normal" font-size="100" fill="#f2efe6" stroke="#f2efe6" stroke-width="3">R1</text>
<text transform="matrix(0.1915,0,0,0.1831,710.442,509.817)" font-family="Liberation Sans" font-weight="normal" font-size="100" fill="#f2efe6" stroke="#f2efe6" stroke-width="3">C6</text>
<text transform="matrix(0.1965,0,0,0.1831,709.828,534.817)" font-family="Liberation Sans" font-weight="normal" font-size="100" fill="#f2efe6" stroke="#f2efe6" stroke-width="3">R6</text>
<text transform="matrix(0.2141,0,0,0.1857,776.172,417.814)" font-family="Liberation Sans" font-weight="normal" font-size="100" fill="#f2efe6" stroke="#f2efe6" stroke-width="3">J1</text>
<rect x="741.7" y="457.4" width="30.2" height="13.70" rx="3.5" fill="#1e4e6e" stroke="#f2efe6" stroke-width="2"/>
<rect x="746" y="459.25" width="22" height="10" fill="#3b3b3b"/>
<rect x="746.5" y="459.75" width="5" height="9" fill="#d8d2c4"/><rect x="762.5" y="459.75" width="5" height="9" fill="#d8d2c4"/>
<rect x="741.7" y="476" width="30.2" height="14.40" rx="3.5" fill="#1e4e6e" stroke="#f2efe6" stroke-width="2"/>
<rect x="746" y="478.20" width="22" height="10" fill="#3b3b3b"/>
<rect x="746.5" y="478.70" width="5" height="9" fill="#d8d2c4"/><rect x="762.5" y="478.70" width="5" height="9" fill="#d8d2c4"/>
<rect x="741.7" y="496" width="30.2" height="16.60" rx="3.5" fill="#1e4e6e" stroke="#f2efe6" stroke-width="2"/>
<rect x="746" y="499.30" width="22" height="10" fill="#3b3b3b"/>
<rect x="746.5" y="499.80" width="5" height="9" fill="#d8d2c4"/><rect x="762.5" y="499.80" width="5" height="9" fill="#d8d2c4"/>
<rect x="741.7" y="521" width="30.2" height="15.90" rx="3.5" fill="#1e4e6e" stroke="#f2efe6" stroke-width="2"/>
<rect x="746" y="523.95" width="22" height="10" fill="#3b3b3b"/>
<rect x="746.5" y="524.45" width="5" height="9" fill="#d8d2c4"/><rect x="762.5" y="524.45" width="5" height="9" fill="#d8d2c4"/>
<rect x="753" y="500" width="8" height="9" fill="#b09a72"/>
<path d="M1016,372 L1039.6,372 L1039.6,600 L1016,600 Z" fill="#1f6f86"/>
<path d="M1017,372 L1034,372 L1034,405 Q1034,430 1024,455 Q1018.3,470 1018.3,485 L1018.3,599.3 L979,599.3 L979,594 L1011,594 L1011,480 Q1011,460 1014,445 Q1022.8,425 1022.8,404 L1022.8,372 Z" fill="#173a5a"/>
<path d="M1034,372 L1034,405 Q1034,430 1024,455 Q1018.3,470 1018.3,485 L1018.3,599.3 L979,599.3" fill="none" stroke="#e3d7b4" stroke-width="1.3"/>
<rect x="789.5" y="446.70" width="11" height="11" fill="#183a55"/>
<rect x="790.8" y="447.90" width="8.2" height="8.5" fill="#ebe7dd"/>
<rect x="789.5" y="463.25" width="11" height="11" fill="#183a55"/>
<rect x="790.8" y="464.45" width="8.2" height="8.5" fill="#ebe7dd"/>
<rect x="789.5" y="479.80" width="11" height="11" fill="#183a55"/>
<rect x="790.8" y="481.00" width="8.2" height="8.5" fill="#ebe7dd"/>
<rect x="789.5" y="496.35" width="11" height="11" fill="#183a55"/>
<rect x="790.8" y="497.55" width="8.2" height="8.5" fill="#ebe7dd"/>
<rect x="789.5" y="512.90" width="11" height="11" fill="#183a55"/>
<rect x="790.8" y="514.10" width="8.2" height="8.5" fill="#ebe7dd"/>
<rect x="789.5" y="529.45" width="11" height="11" fill="#183a55"/>
<rect x="790.8" y="530.65" width="8.2" height="8.5" fill="#ebe7dd"/>
<rect x="789.5" y="546.00" width="11" height="11" fill="#183a55"/>
<rect x="790.8" y="547.20" width="8.2" height="8.5" fill="#ebe7dd"/>
<rect x="789.5" y="562.55" width="11" height="11" fill="#183a55"/>
<rect x="790.8" y="563.75" width="8.2" height="8.5" fill="#ebe7dd"/>
<rect x="789.5" y="579.10" width="11" height="11" fill="#183a55"/>
<rect x="790.8" y="580.30" width="8.2" height="8.5" fill="#ebe7dd"/>
<rect x="798.5" y="372" width="3.5" height="222" fill="#1c3f58"/>
<path d="M800.7,371.2 L1022.8,371.2 L1022.8,404 Q1022.8,425 1014,445 Q1011.3,460 1011.3,480 L1011.3,592 L800.7,592 Z" fill="url(#metal)"/>
<path d="M916.9,372.1 L990,372.1 Q993.5,376.2 990,380.3 L927.4,380.3 L927.4,404 L943,404 L953.8,393.8 L989,393.8 Q993,397.2 989,400.6 L957,400.6 L947,408.1 L916.9,408.1 Z" fill="#2b2725"/>
<path d="M927.4,380.3 L992,380.3 L992,393.8 L953.8,393.8 L943,404 L927.4,404 Z" fill="#f6f6f5"/>
<path d="M913,457.30 L867,457.30 Q864.2,457.30 864.2,460.70 L864.2,471.00 Q864.2,474.40 867,474.40 L913,474.40" fill="none" stroke="#2b2725" stroke-width="3.4" stroke-linecap="round"/>
<rect x="866.6" y="459.10" width="46.5" height="13.5" fill="#ecebea"/>
<path d="M913,537.10 L867,537.10 Q864.2,537.10 864.2,540.50 L864.2,550.80 Q864.2,554.20 867,554.20 L913,554.20" fill="none" stroke="#2b2725" stroke-width="3.4" stroke-linecap="round"/>
<rect x="866.6" y="538.90" width="46.5" height="13.5" fill="#ecebea"/>
<rect x="828" y="583.8" width="58.4" height="10.7" fill="#2f2f2f"/>
<rect x="832" y="588" width="50" height="3" fill="#c8c8c6"/>
<rect x="800" y="366" width="23.70" height="22.40" fill="#1c3f58"/>
<rect x="802.5" y="368.5" width="18.70" height="17.40" fill="#ece8de"/>
<rect x="939" y="352.5" width="36.90" height="19.60" fill="#1c3f58"/>
<rect x="941.5" y="355.0" width="31.90" height="14.60" fill="#ece8de"/>
<rect x="800" y="595.6" width="26.00" height="20.00" fill="#1c3f58"/>
<rect x="802.5" y="598.1" width="21.00" height="15.00" fill="#ece8de"/>
<rect x="940.5" y="595.6" width="35.30" height="20.00" fill="#1c3f58"/>
<rect x="943.0" y="598.1" width="30.30" height="15.00" fill="#ece8de"/>
<circle cx="1039" cy="367" r="4" fill="#e8e2d2" opacity="0.85"/>
<circle cx="1039" cy="378" r="4" fill="#e8e2d2" opacity="0.85"/>
<circle cx="1039" cy="395" r="4" fill="#e8e2d2" opacity="0.85"/>
<circle cx="1039" cy="560" r="4" fill="#e8e2d2" opacity="0.85"/>
<circle cx="1039" cy="575" r="4" fill="#e8e2d2" opacity="0.85"/>
<circle cx="1039" cy="598" r="4" fill="#e8e2d2" opacity="0.85"/>
<circle cx="1041.4" cy="485" r="22" fill="#22788a"/>
<path d="M1039.6,464 A22,22 0 0 1 1039.6,506" fill="none" stroke="#d9c9a0" stroke-width="1.2"/>
<circle cx="1041.4" cy="485" r="16" fill="#2a2a2a" stroke="#c8b890" stroke-width="1.2"/>
<circle cx="1041.4" cy="485" r="1" fill="#888"/>
</g>
</svg></body></html>
